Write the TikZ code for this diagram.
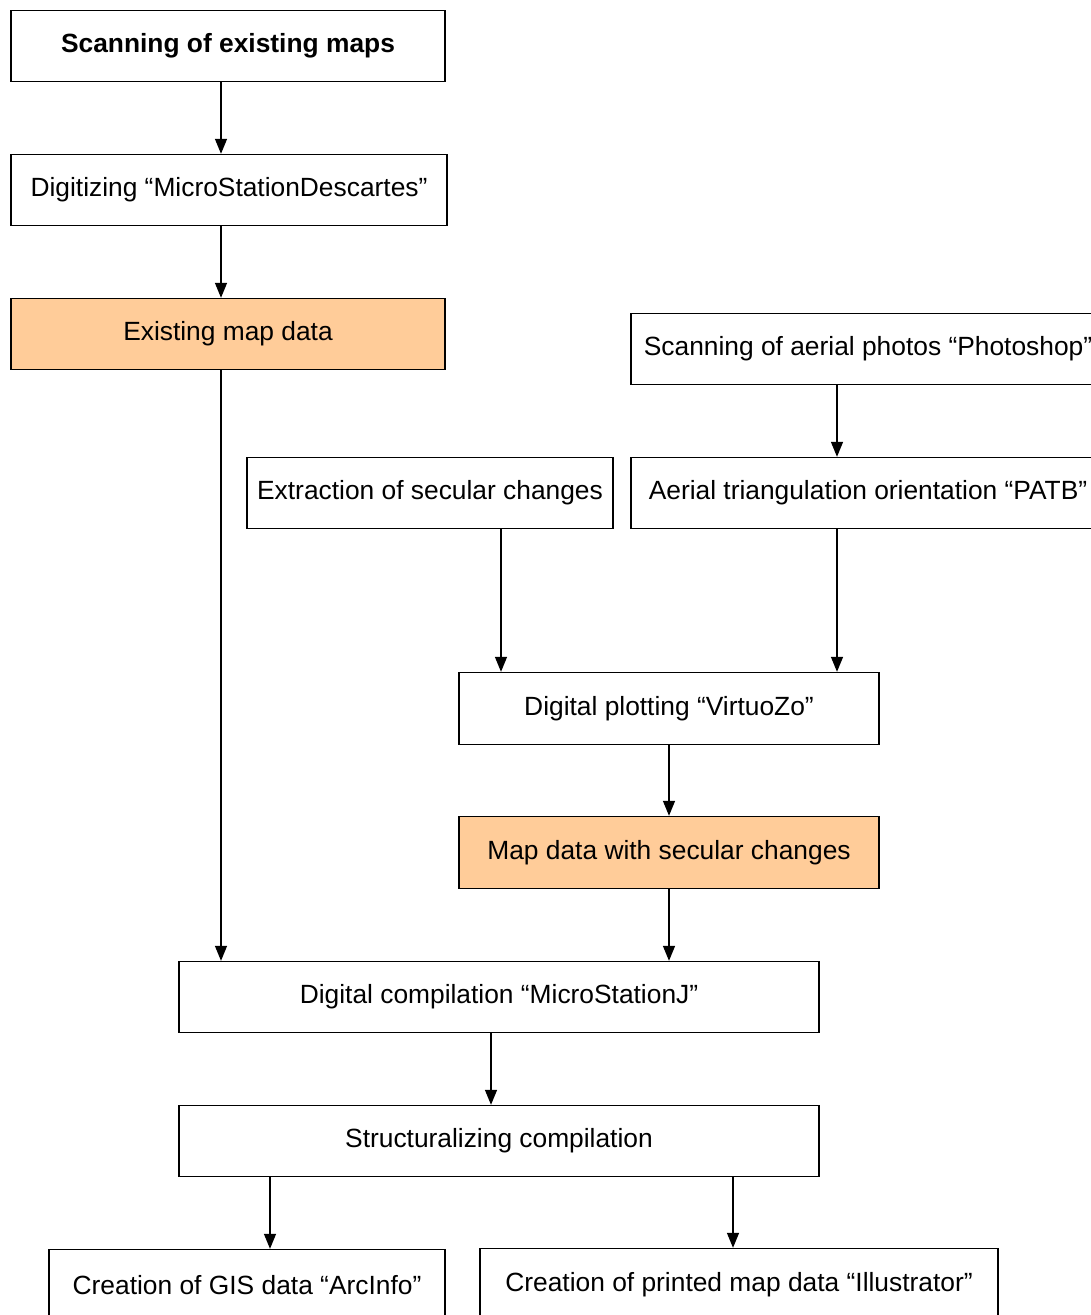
\documentclass[tikz,border=0pt]{standalone}
\usepackage{fontspec}
\setmainfont{Liberation Sans}
\usetikzlibrary{arrows.meta}
\definecolor{datafill}{HTML}{FFCC99}

\begin{document}
\begin{tikzpicture}[x=0.02cm,y=-0.02cm]
    %styles
    \tikzstyle{task}=[rectangle,draw,line width=0.8pt,align=center,minimum height=1.42cm,inner sep=0pt,font=\fontsize{15}{18}\selectfont]
    \tikzstyle{data}=[task,fill=datafill]
    \tikzstyle{commu}=[-{Triangle[length=0.3cm,width=0.24cm]},line width=0.8pt]
    \useasboundingbox (0,0) rectangle (1091,1315);
    \clip (0,0) rectangle (1091,1315);
    %nodes
    \node[task,minimum width=8.68cm] (scan) at (228,46) {\textbf{Scanning of existing maps}};
    \node[task,minimum width=8.72cm] (digi) at (229,190) {Digitizing “MicroStationDescartes”};
    \node[data,minimum width=8.68cm] (exist) at (228,334) {Existing map data};
    \node[task,minimum width=9.48cm] (aerial) at (868,349) {Scanning of aerial photos “Photoshop”};
    \node[task,minimum width=7.32cm] (extr) at (430,493) {Extraction of secular changes};
    \node[task,minimum width=9.48cm] (atri) at (868,493) {Aerial triangulation orientation “PATB”};
    \node[task,minimum width=8.4cm,minimum height=1.44cm] (plot) at (669,708.5) {Digital plotting “VirtuoZo”};
    \node[data,minimum width=8.4cm,minimum height=1.44cm] (mapd) at (669,852.5) {Map data with secular changes};
    \node[task,minimum width=12.8cm] (comp) at (499,997) {Digital compilation “MicroStationJ”};
    \node[task,minimum width=12.8cm] (struc) at (499,1141) {Structuralizing compilation};
    \node[task,minimum width=7.92cm] (gis) at (247,1285) {Creation of GIS data “ArcInfo”};
    \node[task,minimum width=10.36cm,minimum height=1.44cm] (print) at (739,1284.5) {Creation of printed map data “Illustrator”};

    %arrows
    \draw[commu] (scan.south -| 221,0)--(digi.north -| 221,0);
    \draw[commu] (digi.south -| 221,0)--(exist.north -| 221,0);
    \draw[commu] (exist.south -| 221,0)--(comp.north -| 221,0);
    \draw[commu] (aerial.south -| 837,0)--(atri.north -| 837,0);
    \draw[commu] (extr.south -| 501,0)--(plot.north -| 501,0);
    \draw[commu] (atri.south -| 837,0)--(plot.north -| 837,0);
    \draw[commu] (plot.south -| 669,0)--(mapd.north -| 669,0);
    \draw[commu] (mapd.south -| 669,0)--(comp.north -| 669,0);
    \draw[commu] (comp.south -| 491,0)--(struc.north -| 491,0);
    \draw[commu] (struc.south -| 270,0)--(gis.north -| 270,0);
    \draw[commu] (struc.south -| 733,0)--(print.north -| 733,0);
\end{tikzpicture}
\end{document}
